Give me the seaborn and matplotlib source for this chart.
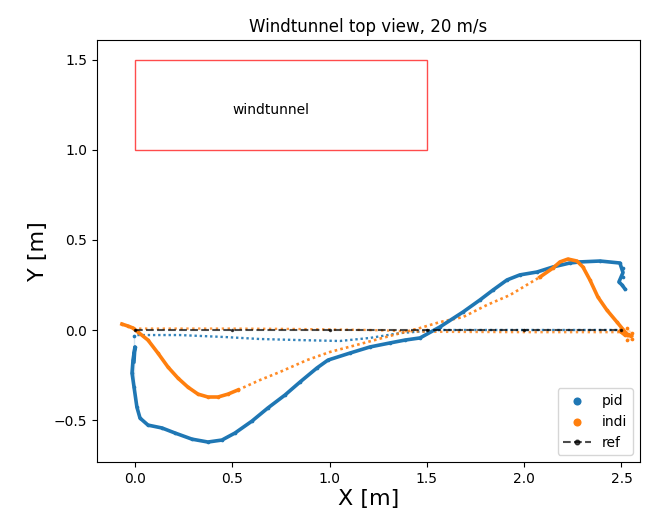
import matplotlib
matplotlib.use("Agg")
import matplotlib.pyplot as plt
import seaborn as sns
from matplotlib.patches import Rectangle

# pid trajectory: densely sampled part
pid_x = [-0.005, 0.0, -0.01, -0.015, -0.005, 0.01, 0.026, 0.067, 0.139, 0.206, 0.293, 0.375,
         0.447, 0.514, 0.601, 0.683, 0.771, 0.848, 0.935, 0.992, 1.105, 1.208, 1.310, 1.387,
         1.465, 1.567, 1.686, 1.773, 1.84, 1.912, 1.978, 2.066, 2.148, 2.235, 2.287, 2.39,
         2.492, 2.508, 2.508, 2.487, 2.503, 2.518]
pid_y = [-0.033, -0.094, -0.167, -0.239, -0.317, -0.428, -0.489, -0.528, -0.544, -0.572, -0.606, -0.622,
         -0.611, -0.572, -0.506, -0.433, -0.361, -0.289, -0.211, -0.167, -0.128, -0.094, -0.072, -0.056,
         -0.044, 0.017, 0.1, 0.167, 0.222, 0.278, 0.306, 0.322, 0.35, 0.372, 0.378, 0.383,
         0.372, 0.344, 0.294, 0.267, 0.25, 0.228]
# pid trajectory: sparsely sampled return leg
pid_ret_x = [2.503, 1.978, 1.567, 1.362, 1.208, 1.053, 0.848, 0.642, 0.462, 0.231, 0.0]
pid_ret_y = [0.0, 0.0, 0.0, -0.017, -0.044, -0.061, -0.056, -0.05, -0.039, -0.028, -0.028]

# indi trajectory
indi_a_x = [-0.067, -0.036, -0.01, 0.015, 0.067, 0.118, 0.17, 0.221, 0.272, 0.324, 0.375, 0.427, 0.478, 0.529]
indi_a_y = [0.033, 0.022, 0.011, -0.011, -0.056, -0.128, -0.206, -0.267, -0.317, -0.356, -0.372, -0.372, -0.356, -0.333]
indi_mid_x = [0.529, 0.642, 0.745, 0.884, 1.002, 1.156, 1.31, 1.465, 1.567, 1.686, 1.809, 1.927, 2.03, 2.081]
indi_mid_y = [-0.333, -0.278, -0.233, -0.167, -0.122, -0.078, -0.033, 0.011, 0.044, 0.072, 0.139, 0.194, 0.261, 0.294]
indi_b_x = [2.081, 2.148, 2.184, 2.225, 2.271, 2.302, 2.338, 2.379, 2.425, 2.477, 2.528, 2.554, 2.554, 2.528, 2.518, 2.492]
indi_b_y = [0.294, 0.344, 0.378, 0.394, 0.383, 0.35, 0.278, 0.183, 0.111, 0.044, 0.011, -0.017, -0.05, -0.056, -0.028, -0.006]
indi_ret_x = [2.49, 2.0, 1.5, 1.2, 0.8, 0.5, 0.0]
indi_ret_y = [-0.012, -0.012, -0.01, 0.0, 0.006, 0.008, 0.008]

# reference path
ref_x = [0.0, 0.5, 1.0, 1.5, 2.0, 2.5]
ref_y = [0.0, 0.0, 0.0, 0.0, 0.0, 0.0]

# windtunnel box
tunnel_x0, tunnel_y0, tunnel_w, tunnel_h = 0.0, 1.0, 1.5, 0.5

C_PID = "#1f77b4"
C_INDI = "#ff7f0e"

fig = plt.figure(figsize=(6.51, 5.20), dpi=100)
ax = fig.add_axes([0.149, 0.1115, 0.834, 0.8115])

# sparse legs (dotted)
sns.lineplot(x=pid_ret_x, y=pid_ret_y, sort=False, ax=ax, color=C_PID, lw=1.7,
             linestyle=(0, (1, 1.2)), legend=False, alpha=0.9)
sns.lineplot(x=indi_mid_x, y=indi_mid_y, sort=False, ax=ax, color=C_INDI, lw=1.9,
             linestyle=(0, (1, 1.2)), legend=False, alpha=0.9)
sns.lineplot(x=indi_ret_x, y=indi_ret_y, sort=False, ax=ax, color=C_INDI, lw=1.7,
             linestyle=(0, (1, 1.5)), legend=False, alpha=0.8)

# dense legs
sns.lineplot(x=pid_x, y=pid_y, sort=False, ax=ax, color=C_PID, lw=2.6, legend=False)
sns.lineplot(x=indi_a_x, y=indi_a_y, sort=False, ax=ax, color=C_INDI, lw=2.6, legend=False)
sns.lineplot(x=indi_b_x, y=indi_b_y, sort=False, ax=ax, color=C_INDI, lw=2.6, legend=False)

sns.scatterplot(x=pid_x, y=pid_y, ax=ax, color=C_PID, s=7, linewidth=0, label="pid")
sns.scatterplot(x=indi_a_x + indi_b_x, y=indi_a_y + indi_b_y, ax=ax, color=C_INDI, s=7,
                linewidth=0, label="indi")

ax.plot(ref_x, ref_y, linestyle="--", marker=".", color="k", alpha=0.7, lw=1.5,
        markersize=3, label="ref")

ax.add_patch(Rectangle((tunnel_x0, tunnel_y0), tunnel_w, tunnel_h, fill=False,
                       edgecolor="red", alpha=0.7, lw=1.0))
ax.text(0.5, 1.2, "windtunnel", fontsize=10)

ax.set_xlim(-0.195, 2.595)
ax.set_ylim(-0.733, 1.61)
ax.set_xticks([0.0, 0.5, 1.0, 1.5, 2.0, 2.5])
ax.set_yticks([-0.5, 0.0, 0.5, 1.0, 1.5])
ax.set_title("Windtunnel top view, 20 m/s", fontsize=12)
ax.set_xlabel("X [m]", fontsize=16, labelpad=2)
ax.set_ylabel("Y [m]", fontsize=16)

leg = ax.legend(loc="lower right", fontsize=10, markerscale=2.2)

fig.savefig("out.png", dpi=100)
